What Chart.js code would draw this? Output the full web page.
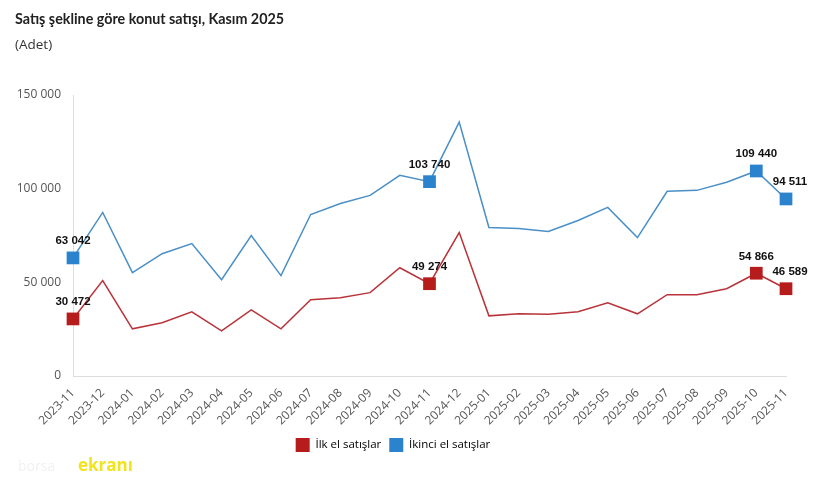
<!DOCTYPE html>
<html>
<head>
<meta charset="utf-8">
<script src="https://cdn.jsdelivr.net/npm/chart.js@4.4.0/dist/chart.umd.min.js"></script>
<style>
  body { margin: 0; background: #fff; font-family: "Open Sans", "Noto Sans", sans-serif; }
  #wrap { position: relative; width: 820px; height: 478px; }
  #title { position: absolute; left: 15px; top: 10px; font-family: Lato, "Open Sans", sans-serif; font-size: 14.3px; font-weight: bold; color: #222; }
  #subtitle { position: absolute; left: 15px; top: 35px; font-size: 13.5px; color: #333; }
  #logo { position: absolute; left: 78px; top: 453px; font-size: 17px; font-weight: bold; color: #f2e41c; }
  #logo2 { position: absolute; left: 18px; top: 456px; font-size: 14px; color: #f1f1f1; }
  canvas { position: absolute; left: 0; top: 0; }
</style>
</head>
<body>
<div id="wrap">
  <canvas id="salesChart" width="820" height="478"></canvas>
  <div id="title">Satış şekline göre konut satışı, Kasım 2025</div>
  <div id="subtitle">(Adet)</div>
  <div id="logo2">borsa</div>
  <div id="logo">ekranı</div>
</div>
<script>
// Months on the x axis
const months = ['2023-11', '2023-12', '2024-01', '2024-02', '2024-03', '2024-04', '2024-05', '2024-06',
    '2024-07', '2024-08', '2024-09', '2024-10', '2024-11', '2024-12', '2025-01', '2025-02', '2025-03',
    '2025-04', '2025-05', '2025-06', '2025-07', '2025-08', '2025-09', '2025-10', '2025-11'];

// First-hand sales (İlk el)
const ilkEl = [30472, 50900, 25200, 28400, 34300, 24100, 35300, 25200, 40700, 41800, 44500, 57800,
    49274, 76600, 32100, 33200, 32900, 34300, 39100, 33200, 43400, 43400, 46600, 54866, 46589];

// Second-hand sales (İkinci el)
const ikinciEl = [63042, 87300, 55200, 65300, 70700, 51400, 75000, 53600, 86200, 92100, 96400, 107100,
    103740, 135500, 79300, 78700, 77100, 83000, 90000, 73900, 98600, 99100, 103400, 109440, 94511];

// Points that get a marker and a value label
const markedIdx = [0, 12, 23, 24];

const yTicks = [0, 50000, 100000, 150000];

function fmt(v) {
    return String(v).replace(/\B(?=(\d{3})+(?!\d))/g, ' ');
}

function radii(size) {
    return months.map((m, i) => markedIdx.includes(i) ? size : 0);
}

// Simple label plugin for the marked points
const pointLabels = {
    id: 'pointLabels',
    afterDatasetsDraw(chart) {
        const ctx = chart.ctx;
        ctx.save();
        ctx.font = 'bold 11.5px "Liberation Sans", Arial, sans-serif';
        ctx.fillStyle = '#111';
        ctx.textAlign = 'center';
        ctx.textBaseline = 'bottom';
        chart.data.datasets.forEach((ds, di) => {
            const meta = chart.getDatasetMeta(di);
            markedIdx.forEach(i => {
                const p = meta.data[i];
                let dx = i === months.length - 1 ? 4 : 0;
                ctx.fillText(fmt(ds.data[i]), p.x + dx, p.y - 11);
            });
        });
        ctx.restore();
    }
};

const tickFont = { family: '"Open Sans", "Noto Sans", sans-serif', size: 12 };

new Chart(document.getElementById('salesChart'), {
    type: 'line',
    data: {
        labels: months,
        datasets: [
            {
                label: 'İlk el satışlar',
                data: ilkEl,
                borderColor: '#b8343a',
                backgroundColor: '#b71c1c',
                borderWidth: 1.5,
                pointStyle: 'rect',
                pointRadius: radii(9),
                pointHoverRadius: radii(9),
                pointBorderWidth: 0,
                tension: 0
            },
            {
                label: 'İkinci el satışlar',
                data: ikinciEl,
                borderColor: '#4a8fc6',
                backgroundColor: '#2a83cc',
                borderWidth: 1.5,
                pointStyle: 'rect',
                pointRadius: radii(9),
                pointHoverRadius: radii(9),
                pointBorderWidth: 0,
                tension: 0
            }
        ]
    },
    options: {
        responsive: false,
        animation: false,
        layout: { padding: { left: 0, right: 34, top: 95, bottom: 16 } },
        plugins: {
            legend: {
                position: 'bottom',
                labels: {
                    boxWidth: 14,
                    boxHeight: 14,
                    padding: 8,
                    color: '#333',
                    font: { family: '"Open Sans", "Noto Sans", sans-serif', size: 11.5 },
                    generateLabels(chart) {
                        return chart.data.datasets.map((ds, i) => ({
                            text: ds.label,
                            fillStyle: ds.backgroundColor,
                            strokeStyle: ds.backgroundColor,
                            lineWidth: 0,
                            datasetIndex: i
                        }));
                    }
                }
            },
            tooltip: { enabled: false }
        },
        scales: {
            x: {
                offset: false,
                grid: { display: false },
                border: { color: '#ddd' },
                ticks: {
                    minRotation: 45,
                    maxRotation: 45,
                    autoSkip: false,
                    color: '#555',
                    font: tickFont,
                    padding: 2
                },
                afterFit(scale) { scale.height = 54; }
            },
            y: {
                min: 0,
                max: 150000,
                grid: { display: false },
                border: { color: '#ddd' },
                afterBuildTicks(scale) { scale.ticks = yTicks.map(v => ({ value: v })); },
                ticks: {
                    color: '#555',
                    font: tickFont,
                    padding: 4,
                    callback: v => fmt(v)
                },
                afterFit(scale) { scale.width = 73; }
            }
        }
    },
    plugins: [pointLabels]
});
</script>
</body>
</html>
